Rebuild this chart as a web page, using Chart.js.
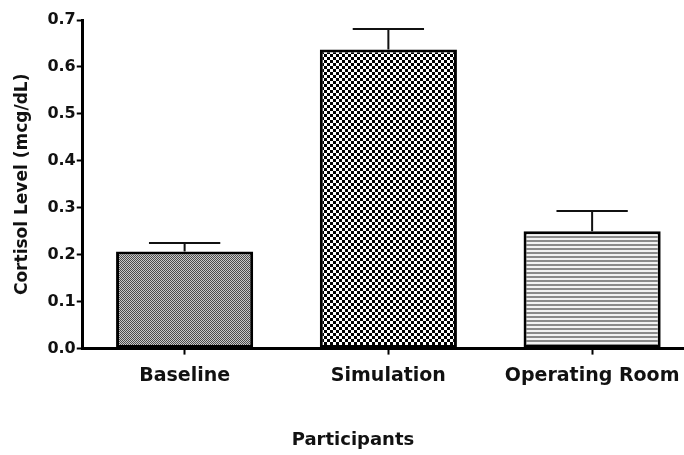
<!DOCTYPE html>
<html>
<head>
<meta charset="utf-8">
<script src="https://cdn.jsdelivr.net/npm/chart.js@4.4.0/dist/chart.umd.min.js"></script>
<style>
  html, body { margin: 0; padding: 0; background: #fff; overflow: hidden; }
  #wrap { position: relative; width: 694px; height: 455px; }
</style>
</head>
<body>
<div id="wrap"><canvas id="cortisolChart"></canvas></div>
<script>
// data
const groups = ['Baseline', 'Simulation', 'Operating Room'];
const cortisolMean = [0.207, 0.637, 0.250];
const cortisolErr = [0.018, 0.044, 0.043];
const yTicks = [0.0, 0.1, 0.2, 0.3, 0.4, 0.5, 0.6, 0.7];

const FONT = "'DejaVu Sans', 'Liberation Sans', Arial, sans-serif";

// small canvas tiles used as bar fills
function makePattern(size, paint) {
    const c = document.createElement('canvas');
    c.width = size; c.height = size;
    const g = c.getContext('2d');
    paint(g);
    return document.createElement('canvas').getContext('2d').createPattern(c, 'repeat');
}

const fineChecker = makePattern(2, g => {
    g.fillStyle = '#c8c8c8'; g.fillRect(0, 0, 2, 2);
    g.fillStyle = '#4a4a4a'; g.fillRect(0, 0, 1, 1); g.fillRect(1, 1, 1, 1);
});
const coarseChecker = makePattern(6, g => {
    g.fillStyle = '#ffffff'; g.fillRect(0, 0, 6, 6);
    g.fillStyle = '#000000'; g.fillRect(0, 0, 3, 3); g.fillRect(3, 3, 3, 3);
});
const stripes = makePattern(4, g => {
    g.fillStyle = '#f2f2f2'; g.fillRect(0, 0, 4, 4);
    g.fillStyle = '#8a8a8a'; g.fillRect(0, 0, 4, 2);
});

// upward error bars (mean + SEM) drawn through the y scale
const errorBars = {
    id: 'errorBars',
    afterDatasetsDraw(chart) {
        const ctx = chart.ctx;
        const y = chart.scales.y;
        const meta = chart.getDatasetMeta(0);
        ctx.save();
        ctx.strokeStyle = '#111';
        ctx.lineWidth = 2;
        meta.data.forEach((bar, i) => {
            const top = y.getPixelForValue(cortisolMean[i] + cortisolErr[i]);
            const half = bar.width * 0.26;
            ctx.beginPath();
            ctx.moveTo(bar.x, bar.y);
            ctx.lineTo(bar.x, top);
            ctx.moveTo(bar.x - half, top);
            ctx.lineTo(bar.x + half, top);
            ctx.stroke();
        });
        ctx.restore();
    }
};

new Chart(document.getElementById('cortisolChart'), {
    type: 'bar',
    data: {
        labels: groups,
        datasets: [{
            data: cortisolMean,
            backgroundColor: [fineChecker, coarseChecker, stripes],
            borderColor: '#000',
            borderWidth: 3,
            borderSkipped: false,
            barPercentage: 0.673,
            categoryPercentage: 1.0
        }]
    },
    options: {
        responsive: true,
        maintainAspectRatio: false,
        animation: false,
        layout: { padding: { top: 20, left: 12, right: 0, bottom: 2 } },
        plugins: {
            legend: { display: false },
            tooltip: { enabled: false },
            title: {
                display: true,
                position: 'bottom',
                text: 'Participants',
                color: '#111',
                font: { family: FONT, size: 18, weight: 'bold' },
                padding: { top: 32, bottom: 2 }
            }
        },
        scales: {
            x: {
                border: { color: '#000', width: 3 },
                grid: {
                    offset: false,
                    drawOnChartArea: false,
                    drawTicks: true,
                    tickLength: 6,
                    tickWidth: 2,
                    tickColor: '#000'
                },
                ticks: {
                    color: '#111',
                    padding: 10,
                    font: { family: FONT, size: 19, weight: 'bold' }
                }
            },
            y: {
                min: 0,
                max: 0.7,
                afterBuildTicks: axis => {
                    axis.ticks = yTicks.map(v => ({ value: v }));
                },
                border: { color: '#000', width: 3 },
                grid: {
                    drawOnChartArea: false,
                    drawTicks: true,
                    tickLength: 6,
                    tickWidth: 2,
                    tickColor: '#000'
                },
                ticks: {
                    color: '#111',
                    padding: 1,
                    font: { family: FONT, size: 16, weight: 'bold' },
                    callback: v => Number(v).toFixed(1)
                },
                title: {
                    display: true,
                    text: 'Cortisol Level (mcg/dL)',
                    color: '#111',
                    font: { family: FONT, size: 17, weight: 'bold' },
                    padding: { top: 0, bottom: 14 }
                }
            }
        }
    },
    plugins: [errorBars]
});
</script>
</body>
</html>
